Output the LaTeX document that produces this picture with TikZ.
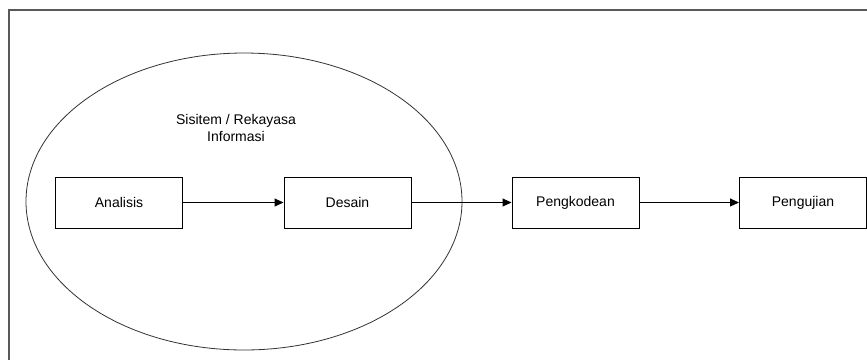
\documentclass[tikz,border=0pt]{standalone}
\usepackage{fontspec}
\setmainfont{Liberation Sans}
\usetikzlibrary{arrows.meta}

\tikzset{
	tahap/.style={draw=black, line width=1pt, minimum width=127pt, minimum height=51pt, inner sep=0pt, font=\fontsize{14}{17}\selectfont},
	panah/.style={-{Triangle[length=9pt,width=8pt]}, line width=1pt}
}

\begin{document}
\begin{tikzpicture}[x=1pt, y=-1pt]
		
		% Canvas of the picture
		\useasboundingbox (0,0) rectangle (867,360);
		\fill[white] (0,0) rectangle (867,360);
		
		% Frame (only top and left edges are visible)
		\coordinate (F1) at (867,10);
		\coordinate (F2) at (9,10);
		\coordinate (F3) at (9,360);
		\draw[line width=1.3pt, black!65] (F1) -- (F2) -- (F3);
		
		% Ellipse around the system / information engineering phase
		\draw[line width=0.8pt, black!80] (244,201.5) ellipse [x radius=218, y radius=148.5];
		\node[align=center, font=\fontsize{14}{17}\selectfont] (judul) at (236,128) {Sisitem / Rekayasa\\Informasi};
		
		% The four phases
		\node[tahap] (analisis) at (119,202.5) {Analisis};
		\node[tahap] (desain) at (347.5,202.5) {Desain};
		\node[tahap] (kode) at (575.5,202.5) {Pengkodean};
		\node[tahap] (uji) at (803,202.5) {Pengujian};
		
		% Arrows between phases
		\draw[panah] (analisis) -- (desain);
		\draw[panah] (desain) -- (kode);
		\draw[panah] (kode) -- (uji);
		
	\end{tikzpicture}
\end{document}
